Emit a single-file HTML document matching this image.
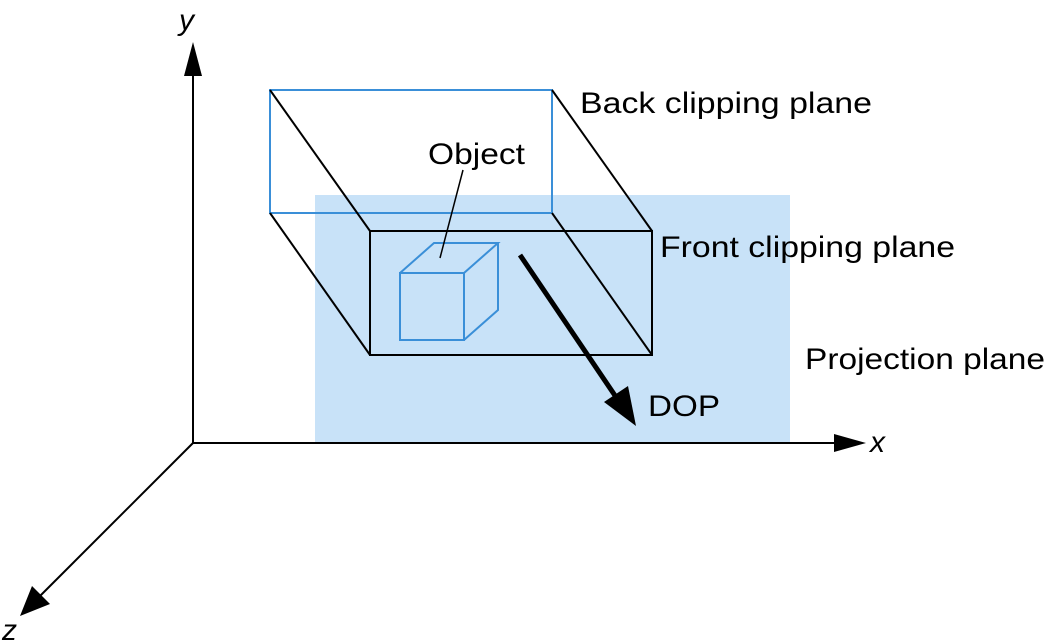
<!DOCTYPE html>
<html><head><meta charset="utf-8"><style>
html,body{margin:0;padding:0;background:#fff;}
svg{display:block;}
text{font-family:"Liberation Sans",Arial,sans-serif;font-size:30px;fill:#000;}
</style></head><body>
<svg width="1046" height="644" viewBox="0 0 1046 644">
  <rect x="315" y="195" width="475" height="248" fill="#c8e2f8"/>
  <g stroke="#000" stroke-width="2" fill="none">
    <line x1="193" y1="443" x2="193" y2="70"/>
    <line x1="193" y1="443" x2="840" y2="443"/>
    <line x1="193" y1="443" x2="38" y2="598"/>
  </g>
  <polygon points="193,42 184,76 202,76" fill="#000"/>
  <polygon points="866,443 834,434 834,452" fill="#000"/>
  <polygon points="20,616 32,586 50,604" fill="#000"/>
  <text x="179" y="30" font-style="italic">y</text>
  <text x="870" y="452" font-style="italic">x</text>
  <text x="2" y="640" font-style="italic">z</text>
  <rect x="270" y="90" width="282" height="123" fill="none" stroke="#3a8fd8" stroke-width="2"/>
  <g stroke="#000" stroke-width="2">
    <line x1="270" y1="90" x2="370" y2="231"/>
    <line x1="552" y1="90" x2="652" y2="231"/>
    <line x1="270" y1="213" x2="370" y2="355"/>
    <line x1="552" y1="213" x2="652" y2="355"/>
  </g>
  <rect x="370" y="231" width="282" height="124" fill="none" stroke="#000" stroke-width="2"/>
  <g stroke="#3a8fd8" stroke-width="2" fill="none">
    <rect x="400" y="273" width="64" height="67"/>
    <polyline points="400,273 434,243 498,243 464,273"/>
    <polyline points="498,243 498,310 464,340"/>
  </g>
  <line x1="463" y1="170" x2="440" y2="258" stroke="#000" stroke-width="1.5"/>
  <text x="428" y="164" textLength="97" lengthAdjust="spacingAndGlyphs">Object</text>
  <line x1="520" y1="255" x2="618" y2="400" stroke="#000" stroke-width="5"/>
  <polygon points="636,426 604,402 628,386" fill="#000"/>
  <text x="648" y="416" textLength="72" lengthAdjust="spacingAndGlyphs">DOP</text>
  <text x="580" y="113" textLength="292" lengthAdjust="spacingAndGlyphs">Back clipping plane</text>
  <text x="660" y="257" textLength="295" lengthAdjust="spacingAndGlyphs">Front clipping plane</text>
  <text x="805" y="369" textLength="240" lengthAdjust="spacingAndGlyphs">Projection plane</text>
</svg>
</body></html>
